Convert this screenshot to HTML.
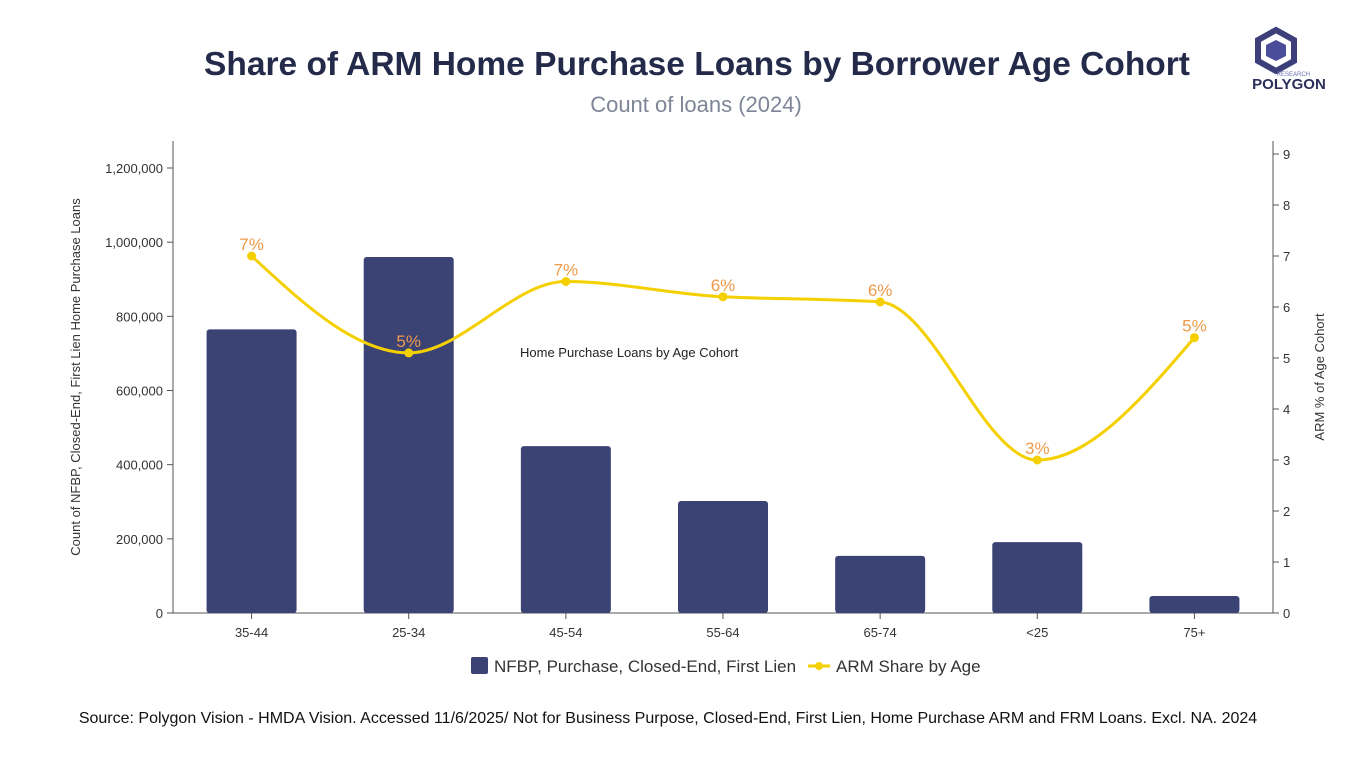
<!DOCTYPE html>
<html><head><meta charset="utf-8"><style>
body{margin:0;background:#fff;width:1366px;height:768px;overflow:hidden;font-family:"Liberation Sans",sans-serif}
svg{position:absolute;left:0;top:0}
</style></head><body>
<svg id="c" width="1366" height="768" xmlns="http://www.w3.org/2000/svg">
<text x="697" y="75" text-anchor="middle" font-size="33.5" font-weight="bold" fill="#242a4a">Share of ARM Home Purchase Loans by Borrower Age Cohort</text>
<text x="696" y="112" text-anchor="middle" font-size="22" fill="#7d8597">Count of loans (2024)</text>
<g>
<polygon points="1276,30 1294,40 1294,61 1276,71 1258,61 1258,40" fill="none" stroke="#3c3f7a" stroke-width="6"/>
<polygon points="1276,40 1286,45 1286,56 1276,61 1266,56 1266,45" fill="#4a4d9a"/>
<text x="1310" y="76" text-anchor="end" font-size="6" fill="#6a6fb0">RESEARCH</text>
<text x="1289" y="89" text-anchor="middle" font-size="15" font-weight="bold" fill="#2b2e5a">POLYGON</text>
</g>
<text x="520" y="357" font-size="13" fill="#222">Home Purchase Loans by Age Cohort</text>
<text transform="translate(80,377) rotate(-90)" text-anchor="middle" font-size="13" fill="#333">Count of NFBP, Closed-End, First Lien Home Purchase Loans</text>
<text transform="translate(1324,377) rotate(-90)" text-anchor="middle" font-size="13" fill="#333">ARM % of Age Cohort</text>
<g>
<rect x="471" y="657" width="17" height="17" rx="2" fill="#3b4274"/>
<text x="494" y="672" font-size="17" fill="#333">NFBP, Purchase, Closed-End, First Lien</text>
<line x1="808" y1="666" x2="830" y2="666" stroke="#f5d000" stroke-width="3"/>
<circle cx="819" cy="666" r="4" fill="#f5d000"/>
<text x="836" y="672" font-size="17" fill="#333">ARM Share by Age</text>
</g>
<text x="668" y="723" text-anchor="middle" font-size="16" fill="#111">Source: Polygon Vision - HMDA Vision. Accessed 11/6/2025/ Not for Business Purpose, Closed-End, First Lien, Home Purchase ARM and FRM Loans. Excl. NA. 2024</text>
</svg>
<script>
const categories=["35-44","25-34","45-54","55-64","65-74","<25","75+"];
const loanCounts=[765000,960000,450000,302000,154000,191000,46000];
const armShare=[7.0,5.1,6.5,6.2,6.1,3.0,5.4];
const armLabels=["7%","5%","7%","6%","6%","3%","5%"];
const leftTicks=[0,200000,400000,600000,800000,1000000,1200000];
const rightTicks=[0,1,2,3,4,5,6,7,8,9];
const NS="http://www.w3.org/2000/svg";
const svg=document.getElementById('c');
const L=173,R=1273,B=613,T=141;
const yL=v=>B-v/1200000*(B-168);
const yR=v=>B-v/9*(B-154);
const band=(R-L)/categories.length;
const xC=i=>L+band*(i+0.5);
function mk(t,a,p){const e=document.createElementNS(NS,t);for(const k in a)e.setAttribute(k,a[k]);(p||svg).appendChild(e);return e;}
mk('line',{x1:L,y1:T,x2:L,y2:B,stroke:'#555'});
mk('line',{x1:R,y1:T,x2:R,y2:B,stroke:'#555'});
mk('line',{x1:L,y1:B,x2:R,y2:B,stroke:'#555'});
leftTicks.forEach(v=>{const y=yL(v);mk('line',{x1:L-6,y1:y,x2:L,y2:y,stroke:'#555'});
const t=mk('text',{x:L-10,y:y+5,'text-anchor':'end','font-size':13,fill:'#333'});t.textContent=v.toLocaleString('en-US');
});
rightTicks.forEach(v=>{const y=yR(v);mk('line',{x1:R,y1:y,x2:R+6,y2:y,stroke:'#555'});
const t=mk('text',{x:R+10,y:y+5,'font-size':13,fill:'#333'});t.textContent=v;
});
categories.forEach((c,i)=>{const x=xC(i);mk('line',{x1:x,y1:B,x2:x,y2:B+6,stroke:'#555'});
const t=mk('text',{x:x,y:B+24,'text-anchor':'middle','font-size':13,fill:'#333'});t.textContent=c;

const y=yL(loanCounts[i]);
const b=mk('rect',{x:x-45,y:y,width:90,height:B-y,rx:3,fill:'#3b4274'});
});
const pts=armShare.map((v,i)=>[xC(i),yR(v)]);
const n=pts.length,dx=[],sl=[],m=[];
for(let i=0;i<n-1;i++){dx[i]=pts[i+1][0]-pts[i][0];sl[i]=(pts[i+1][1]-pts[i][1])/dx[i];}
for(let i=1;i<n-1;i++){m[i]=(sl[i-1]*sl[i]<=0)?0:(3*(dx[i-1]+dx[i]))/((2*dx[i]+dx[i-1])/sl[i-1]+(dx[i]+2*dx[i-1])/sl[i]);}
m[0]=(3*sl[0]-m[1])/2;m[n-1]=(3*sl[n-2]-m[n-2])/2;
let d='M'+pts[0][0]+','+pts[0][1];
for(let i=0;i<n-1;i++){const h=dx[i]/3;
d+=` C${pts[i][0]+h},${pts[i][1]+h*m[i]} ${pts[i+1][0]-h},${pts[i+1][1]-h*m[i+1]} ${pts[i+1][0]},${pts[i+1][1]}`;}
const ln=mk('path',{d:d,fill:'none',stroke:'#f5d000','stroke-width':3});

pts.forEach((p,i)=>{const c=mk('circle',{cx:p[0],cy:p[1],r:4.5,fill:'#f5d000'});

const t=mk('text',{x:p[0],y:p[1]-6,'text-anchor':'middle','font-size':17,fill:'#ee9a4a'});t.textContent=armLabels[i];
});
</script>
</body></html>
